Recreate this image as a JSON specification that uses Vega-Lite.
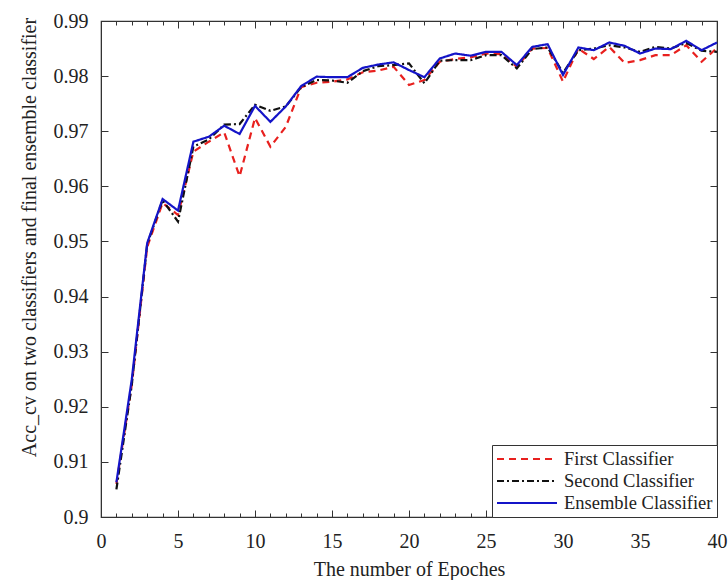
{
  "$schema": "https://vega.github.io/schema/vega-lite/v6.json",
  "width": 616,
  "height": 496,
  "autosize": "none",
  "padding": {"left": 101, "top": 21, "right": 11, "bottom": 63},
  "background": "white",
  "config": {
    "font": "Liberation Serif",
    "view": {"stroke": "#333333", "strokeWidth": 1.2},
    "axis": {
      "domainColor": "#333333",
      "tickColor": "#333333",
      "labelColor": "#222222",
      "titleColor": "#222222",
      "labelFont": "Liberation Serif",
      "titleFont": "Liberation Serif",
      "labelFontSize": 20,
      "titleFontSize": 20,
      "titleFontWeight": "normal",
      "labelFlush": false,
      "grid": false
    }
  },
  "data": {
    "values": [
      {"epoch": 1, "First Classifier": 0.906, "Second Classifier": 0.905, "Ensemble Classifier": 0.9063},
      {"epoch": 2, "First Classifier": 0.924, "Second Classifier": 0.924, "Ensemble Classifier": 0.925},
      {"epoch": 3, "First Classifier": 0.949, "Second Classifier": 0.9495, "Ensemble Classifier": 0.9497},
      {"epoch": 4, "First Classifier": 0.957, "Second Classifier": 0.9575, "Ensemble Classifier": 0.9577},
      {"epoch": 5, "First Classifier": 0.9548, "Second Classifier": 0.9536, "Ensemble Classifier": 0.9556},
      {"epoch": 6, "First Classifier": 0.9663, "Second Classifier": 0.9672, "Ensemble Classifier": 0.9681},
      {"epoch": 7, "First Classifier": 0.9681, "Second Classifier": 0.9685, "Ensemble Classifier": 0.969},
      {"epoch": 8, "First Classifier": 0.9698, "Second Classifier": 0.9712, "Ensemble Classifier": 0.971},
      {"epoch": 9, "First Classifier": 0.9618, "Second Classifier": 0.9713, "Ensemble Classifier": 0.9695},
      {"epoch": 10, "First Classifier": 0.9724, "Second Classifier": 0.9748, "Ensemble Classifier": 0.9746},
      {"epoch": 11, "First Classifier": 0.9672, "Second Classifier": 0.9737, "Ensemble Classifier": 0.9717},
      {"epoch": 12, "First Classifier": 0.9708, "Second Classifier": 0.9745, "Ensemble Classifier": 0.9745},
      {"epoch": 13, "First Classifier": 0.978, "Second Classifier": 0.978, "Ensemble Classifier": 0.9782},
      {"epoch": 14, "First Classifier": 0.9788, "Second Classifier": 0.9793, "Ensemble Classifier": 0.9799},
      {"epoch": 15, "First Classifier": 0.979, "Second Classifier": 0.9792, "Ensemble Classifier": 0.9798},
      {"epoch": 16, "First Classifier": 0.9794, "Second Classifier": 0.9788, "Ensemble Classifier": 0.9798},
      {"epoch": 17, "First Classifier": 0.9807, "Second Classifier": 0.9809, "Ensemble Classifier": 0.9815},
      {"epoch": 18, "First Classifier": 0.981, "Second Classifier": 0.9818, "Ensemble Classifier": 0.9821},
      {"epoch": 19, "First Classifier": 0.9817, "Second Classifier": 0.982, "Ensemble Classifier": 0.9825},
      {"epoch": 20, "First Classifier": 0.9784, "Second Classifier": 0.9823, "Ensemble Classifier": 0.9811},
      {"epoch": 21, "First Classifier": 0.9793, "Second Classifier": 0.9787, "Ensemble Classifier": 0.9798},
      {"epoch": 22, "First Classifier": 0.9826, "Second Classifier": 0.9828, "Ensemble Classifier": 0.9832},
      {"epoch": 23, "First Classifier": 0.9831, "Second Classifier": 0.9829, "Ensemble Classifier": 0.9841},
      {"epoch": 24, "First Classifier": 0.9834, "Second Classifier": 0.9829, "Ensemble Classifier": 0.9837},
      {"epoch": 25, "First Classifier": 0.9841, "Second Classifier": 0.9838, "Ensemble Classifier": 0.9844},
      {"epoch": 26, "First Classifier": 0.984, "Second Classifier": 0.9838, "Ensemble Classifier": 0.9844},
      {"epoch": 27, "First Classifier": 0.9817, "Second Classifier": 0.9814, "Ensemble Classifier": 0.982},
      {"epoch": 28, "First Classifier": 0.985, "Second Classifier": 0.9849, "Ensemble Classifier": 0.9853},
      {"epoch": 29, "First Classifier": 0.9851, "Second Classifier": 0.9852, "Ensemble Classifier": 0.9858},
      {"epoch": 30, "First Classifier": 0.979, "Second Classifier": 0.9806, "Ensemble Classifier": 0.9802},
      {"epoch": 31, "First Classifier": 0.985, "Second Classifier": 0.9847, "Ensemble Classifier": 0.9852},
      {"epoch": 32, "First Classifier": 0.9831, "Second Classifier": 0.985, "Ensemble Classifier": 0.9847},
      {"epoch": 33, "First Classifier": 0.9853, "Second Classifier": 0.9856, "Ensemble Classifier": 0.9861},
      {"epoch": 34, "First Classifier": 0.9824, "Second Classifier": 0.9852, "Ensemble Classifier": 0.9855},
      {"epoch": 35, "First Classifier": 0.9829, "Second Classifier": 0.9844, "Ensemble Classifier": 0.9841},
      {"epoch": 36, "First Classifier": 0.9838, "Second Classifier": 0.9853, "Ensemble Classifier": 0.985},
      {"epoch": 37, "First Classifier": 0.9838, "Second Classifier": 0.985, "Ensemble Classifier": 0.9849},
      {"epoch": 38, "First Classifier": 0.9856, "Second Classifier": 0.986, "Ensemble Classifier": 0.9864},
      {"epoch": 39, "First Classifier": 0.9826, "Second Classifier": 0.9846, "Ensemble Classifier": 0.9847},
      {"epoch": 40, "First Classifier": 0.9851, "Second Classifier": 0.9844, "Ensemble Classifier": 0.9861}
    ]
  },
  "transform": [
    {"fold": ["First Classifier", "Second Classifier", "Ensemble Classifier"], "as": ["classifier", "acc"]}
  ],
  "layer": [
    {
      "mark": {"type": "line", "strokeWidth": 2.2},
      "encoding": {
        "x": {
          "field": "epoch", "type": "quantitative",
          "scale": {"domain": [0, 40], "nice": false},
          "axis": {
            "orient": "bottom",
            "values": [0,1,2,3,4,5,6,7,8,9,10,11,12,13,14,15,16,17,18,19,20,21,22,23,24,25,26,27,28,29,30,31,32,33,34,35,36,37,38,39,40],
            "format": "d",
            "labelExpr": "datum.value % 5 === 0 ? datum.label : ''",
            "tickSize": {"condition": {"test": "datum.value % 5 === 0", "value": -7}, "value": -4},
            "labelPadding": 21,
            "title": "The number of Epoches",
            "titlePadding": 8
          }
        },
        "y": {
          "field": "acc", "type": "quantitative",
          "scale": {"domain": [0.9, 0.99], "nice": false, "zero": false},
          "axis": {
            "orient": "left",
            "values": [0.9, 0.91, 0.92, 0.93, 0.94, 0.95, 0.96, 0.97, 0.98, 0.99],
            "format": ".2~f",
            "tickSize": -7,
            "labelPadding": 20,
            "title": "Acc_cv on two classifiers and final ensemble classifier",
            "titlePadding": 14,
            "titleY": 216
          }
        },
        "color": {
          "field": "classifier", "type": "nominal",
          "scale": {
            "domain": ["First Classifier", "Second Classifier", "Ensemble Classifier"],
            "range": ["#e8201e", "#111111", "#1414c8"]
          },
          "legend": {
            "title": null,
            "orient": "bottom-right",
            "offset": 0,
            "strokeColor": "#333333",
            "fillColor": "white",
            "padding": 4,
            "symbolType": "stroke",
            "symbolSize": 3600,
            "symbolStrokeWidth": 2,
            "clipHeight": 20,
            "labelFont": "Liberation Serif",
            "labelFontSize": 18.5,
            "labelColor": "#222222",
            "labelOffset": 6,
            "rowPadding": 2
          }
        },
        "strokeDash": {
          "field": "classifier", "type": "nominal",
          "scale": {
            "domain": ["First Classifier", "Second Classifier", "Ensemble Classifier"],
            "range": [[7, 5], [7, 3, 2, 3], [1, 0]]
          },
          "legend": {
            "title": null,
            "orient": "bottom-right",
            "offset": 0,
            "strokeColor": "#333333",
            "fillColor": "white",
            "padding": 4,
            "symbolType": "stroke",
            "symbolSize": 3600,
            "symbolStrokeWidth": 2,
            "clipHeight": 20,
            "labelFont": "Liberation Serif",
            "labelFontSize": 18.5,
            "labelColor": "#222222",
            "labelOffset": 6,
            "rowPadding": 2
          }
        }
      }
    },
    {
      "mark": {"type": "point", "opacity": 0},
      "encoding": {
        "x": {
          "field": "epoch", "type": "quantitative",
          "scale": {"domain": [0, 40], "nice": false},
          "axis": {
            "orient": "top",
            "values": [0,1,2,3,4,5,6,7,8,9,10,11,12,13,14,15,16,17,18,19,20,21,22,23,24,25,26,27,28,29,30,31,32,33,34,35,36,37,38,39,40],
            "labels": false,
            "title": null,
            "tickSize": {"condition": {"test": "datum.value % 5 === 0", "value": -7}, "value": -4}
          }
        },
        "y": {
          "field": "acc", "type": "quantitative",
          "scale": {"domain": [0.9, 0.99], "nice": false, "zero": false},
          "axis": {
            "orient": "right",
            "values": [0.9, 0.91, 0.92, 0.93, 0.94, 0.95, 0.96, 0.97, 0.98, 0.99],
            "labels": false,
            "title": null,
            "tickSize": -7
          }
        }
      }
    }
  ],
  "resolve": {"axis": {"x": "independent", "y": "independent"}}
}
